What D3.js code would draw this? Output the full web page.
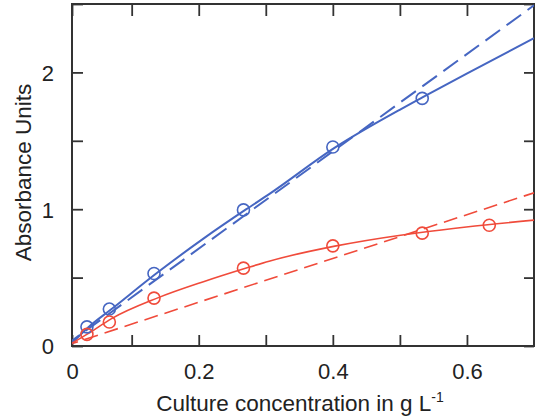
<!DOCTYPE html>
<html>
<head>
<meta charset="utf-8">
<script src="https://cdn.jsdelivr.net/npm/d3@7"></script>
<style>
  body { margin: 0; background: #fff; }
  text { font-family: "Liberation Sans", Arial, sans-serif; }
</style>
</head>
<body>
<div id="chart"></div>
<script>
// measured points
var concX = [0.0333, 0.0667, 0.1333, 0.2667, 0.4, 0.5333, 0.6333];
var blueY = [0.14, 0.27, 0.53, 0.995, 1.455, 1.81];
var redY = [0.085, 0.175, 0.35, 0.569, 0.732, 0.825, 0.883];

// fitted curves
var fitX = [0.011, 0.035, 0.07, 0.138, 0.207, 0.271, 0.305, 0.403, 0.501, 0.531, 0.599, 0.7];
var blueFit = [0.02, 0.135, 0.27, 0.535, 0.785, 1.0, 1.11, 1.45, 1.73, 1.81, 1.99, 2.25];
var redFit = [0.02, 0.09, 0.2, 0.35, 0.47, 0.57, 0.62, 0.73, 0.81, 0.83, 0.87, 0.92];

// linear references
var lineX = [0, 0.7];
var blueLin = [0, 2.49];
var redLin = [0, 1.12];

// x axis starts a little above zero, labelled "0"
var xStart = 0.011;
var xTicks = [xStart, 0.1, 0.2, 0.3, 0.4, 0.5, 0.6];
var xLabels = ['0', '', '0.2', '', '0.4', '', '0.6'];
var yTicks = [0, 0.5, 1, 1.5, 2, 2.5];
var yLabels = ['0', '', '1', '', '2', ''];

var blue = '#4666c2';
var red = '#f04b3b';

var width = 536, height = 419;
var margin = { top: 4, right: 2, bottom: 73, left: 72 };
var w = width - margin.left - margin.right;
var h = height - margin.top - margin.bottom;

var x = d3.scaleLinear().domain([xStart, 0.7]).range([0, w]);
var y = d3.scaleLinear().domain([0, 2.5]).range([h, 0]);

var svg = d3.select('#chart').append('svg')
    .attr('width', width)
    .attr('height', height)
  .append('g')
    .attr('transform', `translate(${margin.left}, ${margin.top})`);

svg.append('clipPath')
    .attr('id', 'plot')
  .append('rect')
    .attr('width', w)
    .attr('height', h);

var axB = svg.append('g')
    .attr('transform', `translate(0, ${h})`)
    .call(d3.axisBottom(x).tickValues(xTicks).tickFormat((d, i) => xLabels[i]).tickSize(-11).tickSizeOuter(0).tickPadding(17));
var axT = svg.append('g')
    .call(d3.axisTop(x).tickValues(xTicks).tickFormat('').tickSize(-12).tickSizeOuter(0));
var axL = svg.append('g')
    .call(d3.axisLeft(y).tickValues(yTicks).tickFormat((d, i) => yLabels[i]).tickSize(-11).tickSizeOuter(0).tickPadding(18));
var axR = svg.append('g')
    .attr('transform', `translate(${w}, 0)`)
    .call(d3.axisRight(y).tickValues(yTicks).tickFormat('').tickSize(-10).tickSizeOuter(0));

[axB, axT, axL, axR].forEach(function (a) {
  a.select('.domain').remove();
  a.selectAll('line').attr('stroke', '#333').attr('stroke-width', 1.8);
  a.selectAll('text').attr('font-size', 22).attr('fill', '#222');
});
axL.selectAll('text').attr('dy', '0.36em');

svg.append('rect')
    .attr('width', w)
    .attr('height', h)
    .attr('fill', 'none')
    .attr('stroke', '#333')
    .attr('stroke-width', 2);

var line = d3.line()
    .x(d => x(d[0]))
    .y(d => y(d[1]))
    .curve(d3.curveMonotoneX);

var plot = svg.append('g').attr('clip-path', 'url(#plot)');

plot.append('path')
    .datum(lineX.map((v, i) => [v, blueLin[i]]))
    .attr('fill', 'none')
    .attr('stroke', blue)
    .attr('stroke-width', 2)
    .attr('stroke-dasharray', '18,8')
    .attr('d', line);

plot.append('path')
    .datum(lineX.map((v, i) => [v, redLin[i]]))
    .attr('fill', 'none')
    .attr('stroke', red)
    .attr('stroke-width', 1.6)
    .attr('stroke-dasharray', '14,7')
    .attr('d', line);

plot.append('path')
    .datum(fitX.map((v, i) => [v, blueFit[i]]))
    .attr('fill', 'none')
    .attr('stroke', blue)
    .attr('stroke-width', 2)
    .attr('d', line);

plot.append('path')
    .datum(fitX.map((v, i) => [v, redFit[i]]))
    .attr('fill', 'none')
    .attr('stroke', red)
    .attr('stroke-width', 1.6)
    .attr('d', line);

svg.append('g').selectAll('circle')
    .data(blueY)
  .enter().append('circle')
    .attr('cx', (d, i) => x(concX[i]))
    .attr('cy', d => y(d))
    .attr('r', 6)
    .attr('fill', 'none')
    .attr('stroke', blue)
    .attr('stroke-width', 1.6);

svg.append('g').selectAll('circle')
    .data(redY)
  .enter().append('circle')
    .attr('cx', (d, i) => x(concX[i]))
    .attr('cy', d => y(d))
    .attr('r', 6)
    .attr('fill', 'none')
    .attr('stroke', red)
    .attr('stroke-width', 1.6);

var xl = svg.append('text')
    .attr('x', 228)
    .attr('y', h + 65)
    .attr('text-anchor', 'middle')
    .attr('font-size', 22.5)
    .attr('fill', '#222')
    .text('Culture concentration in g L');
xl.append('tspan')
    .attr('dy', -9)
    .attr('font-size', 14)
    .text('-1');

svg.append('text')
    .attr('transform', `translate(${-41}, ${168.5}) rotate(-90)`)
    .attr('text-anchor', 'middle')
    .attr('font-size', 22.5)
    .attr('fill', '#222')
    .text('Absorbance Units');
</script>
</body>
</html>
